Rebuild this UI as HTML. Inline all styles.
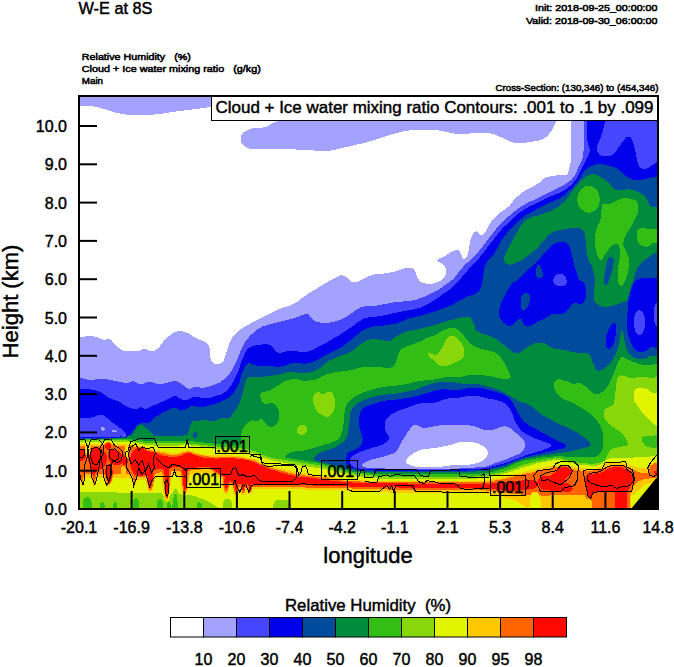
<!DOCTYPE html>
<html><head><meta charset="utf-8"><title>W-E at 8S</title>
<style>
html,body{margin:0;padding:0;background:#fff;}
body{width:674px;height:667px;overflow:hidden;}
svg{display:block;}
text{font-family:"Liberation Sans",sans-serif;fill:#000;white-space:pre;}
.t16{font-size:16px;}
.sm{font-size:9.8px;stroke:#000;stroke-width:0.55px;}
.bd{stroke:#000;stroke-width:0.45px;}
</style></head><body>
<svg width="674" height="667" viewBox="0 0 674 667">
<rect x="0" y="0" width="674" height="667" fill="#fff"/>
<g id="field" shape-rendering="crispEdges">
<clipPath id="pc"><rect x="79" y="96" width="579" height="413"/></clipPath>
<g clip-path="url(#pc)">
<path fill="#a3a3ff" fill-rule="evenodd" d="M76.2,105.5 76.2,93.2 281.0,93.2 235.2,101.1 220.2,104.8 204.8,107.9 175.2,111.6 160.2,113.9 148.8,115.0 132.2,115.0 124.8,114.4 114.2,112.3 98.2,107.1 86.2,105.5ZM240.5,140.2 240.9,136.2 243.7,132.2 245.2,131.1 250.8,128.6 261.2,127.9 266.2,126.8 268.2,126.0 271.8,123.6 277.2,121.3 277.9,119.8 279.0,113.8 279.1,99.2 279.8,98.2 282.2,97.6 320.4,93.2 516.1,93.2 554.2,97.6 556.8,98.2 557.4,99.2 557.5,113.8 555.8,122.2 553.1,128.2 549.3,133.8 545.2,137.8 539.8,140.3 525.2,142.9 518.2,143.5 512.2,142.4 494.4,134.2 487.2,132.6 469.8,133.5 467.2,134.0 456.8,134.0 439.8,130.6 428.2,129.5 416.8,129.5 407.8,130.6 400.2,132.1 388.8,135.2 376.2,139.5 364.8,142.8 331.8,150.4 324.8,151.0 319.2,151.0 302.2,149.5 295.8,149.5 286.8,148.5 250.2,148.9 246.8,147.6 243.8,145.4 241.2,142.2ZM660.8,93.2 660.8,511.8 76.2,511.8 76.2,336.5 85.2,336.5 91.2,336.0 97.2,337.2 101.8,339.3 104.8,339.9 108.2,338.8 109.2,338.9 111.2,340.1 114.5,344.2 119.1,348.2 121.8,350.1 124.8,350.9 128.2,351.5 136.2,351.4 139.8,350.7 143.2,348.8 144.8,348.5 145.8,348.8 149.2,350.8 151.8,351.4 154.8,350.7 157.2,348.9 159.4,346.8 164.2,340.5 168.8,336.1 172.8,333.2 174.8,332.2 178.8,331.1 183.8,331.6 188.8,333.6 193.2,336.6 198.8,339.4 202.8,340.7 206.8,342.8 208.3,344.8 209.3,347.2 210.0,350.8 210.1,357.2 211.6,360.8 212.7,362.2 214.8,363.8 216.2,364.4 218.2,364.4 221.8,362.8 223.4,360.8 224.8,357.8 226.2,352.8 229.7,342.8 233.2,336.2 237.2,332.0 241.2,328.8 250.2,323.6 275.8,310.6 281.8,308.0 290.8,305.3 296.2,302.6 301.6,298.2 308.2,293.7 333.2,278.7 337.2,276.7 341.2,275.2 343.2,275.5 345.8,276.7 348.2,278.6 351.2,281.9 352.2,282.4 354.2,282.4 358.2,281.6 366.8,276.9 374.8,274.2 385.8,273.4 395.8,271.3 404.8,268.2 410.8,267.5 412.8,268.1 414.3,269.2 415.8,272.2 417.4,277.8 419.6,280.8 421.2,282.3 426.8,283.8 428.8,284.0 433.8,283.4 438.2,281.8 440.3,280.8 443.9,277.8 446.1,273.8 446.5,271.8 446.3,269.8 444.4,266.2 441.8,263.6 438.2,261.6 437.4,260.8 437.5,259.8 438.2,258.8 442.8,257.4 452.2,251.4 456.8,249.7 458.8,250.4 460.0,251.8 461.1,253.8 462.8,258.6 463.8,259.1 464.8,259.1 465.6,258.2 467.5,254.8 468.9,249.2 470.2,240.8 472.1,235.2 474.2,232.2 475.2,231.6 477.2,231.3 480.3,234.8 482.2,235.3 483.2,234.8 485.8,231.2 490.7,222.2 493.8,218.5 500.2,212.6 508.5,206.8 514.5,199.2 521.2,193.1 526.2,189.9 537.8,183.8 540.0,182.2 542.7,179.2 546.2,177.4 549.2,176.6 558.8,175.1 566.2,175.0 567.2,174.5 567.8,173.8 571.0,160.8 571.0,124.8 571.5,120.8 571.3,98.2 570.8,97.7 568.2,97.1 532.9,93.2ZM487.9,451.8 487.0,449.8 483.8,446.1 477.2,443.2 470.2,441.5 461.2,441.6 452.8,444.3 441.8,446.9 432.8,448.4 427.2,448.6 421.2,449.7 414.8,452.4 410.2,455.6 407.2,458.8 406.2,460.8 406.1,462.2 407.2,463.8 411.8,465.8 417.2,466.9 423.8,467.4 429.8,467.4 438.8,466.5 443.2,466.5 456.2,464.5 460.8,464.5 464.2,465.0 470.8,464.4 477.8,462.9 482.3,461.2 485.2,458.8 486.8,456.2 487.8,453.8Z"/>
<path fill="#4646ff" fill-rule="evenodd" d="M660.8,93.2 660.8,511.8 76.2,511.8 76.2,378.0 81.8,378.1 87.2,379.5 95.2,379.5 98.2,379.0 102.2,379.0 108.2,379.5 125.8,383.0 129.8,382.4 132.8,381.1 139.2,383.8 143.2,383.9 147.2,382.2 149.8,382.0 152.2,382.2 156.8,383.9 162.8,384.0 170.2,381.7 175.8,381.0 180.2,382.9 186.8,387.9 189.2,388.8 190.8,388.8 193.8,387.2 196.2,386.6 202.2,388.0 206.8,387.3 211.8,385.8 219.8,382.4 226.2,377.5 229.8,373.4 232.9,368.8 237.3,359.2 241.4,348.8 245.2,341.2 251.2,334.6 257.2,329.7 262.8,326.2 290.2,319.3 299.2,316.3 306.2,313.4 308.8,314.6 311.8,318.8 315.2,321.3 319.2,322.4 323.8,323.0 327.2,323.0 331.2,322.4 339.2,320.3 342.8,318.9 346.2,317.0 355.8,310.2 360.2,307.6 362.8,306.7 367.8,305.5 374.8,305.9 395.2,302.1 410.2,300.9 415.8,299.8 425.2,296.4 438.2,289.8 447.9,283.2 453.8,278.5 458.1,272.8 464.5,265.2 472.8,258.0 477.4,253.2 496.8,228.0 507.2,217.5 514.8,211.1 520.2,207.2 527.2,203.1 561.2,186.6 568.2,182.3 571.9,179.2 574.9,175.2 582.4,158.8 584.0,147.2 584.1,99.2 584.6,98.2 587.2,96.6 589.2,93.2 603.3,93.2 604.8,94.2 610.5,93.2ZM102.8,426.3 101.5,427.2 101.1,428.8 101.8,430.3 103.2,431.0 104.6,429.8 104.8,428.2 104.0,426.8ZM111.8,431.2 112.4,432.2 114.2,432.5 116.1,432.2 116.7,431.2 116.1,430.2 114.2,430.0 112.4,430.2ZM124.2,434.8 123.8,435.0 123.5,435.8 124.2,436.3 124.8,435.8ZM361.6,465.2 362.8,466.8 367.2,467.8 392.2,468.8 454.8,468.8 484.8,466.9 504.8,459.8 518.8,454.1 521.8,451.9 523.8,449.8 525.3,446.8 525.4,443.8 523.8,440.2 519.2,435.6 510.2,428.2 505.2,426.1 501.0,426.8 493.2,429.8 488.2,430.5 483.8,429.8 474.2,426.2 467.8,425.0 460.8,424.5 449.2,424.5 437.8,425.6 425.2,428.0 421.2,427.4 417.2,424.8 414.8,424.5 412.8,425.5 408.2,431.2 401.7,441.8 397.8,449.2 394.8,452.4 392.8,453.6 388.2,455.3 369.2,460.2 363.2,463.2 362.0,464.2Z"/>
<path fill="#0000eb" fill-rule="evenodd" d="M660.8,161.5 660.8,301.1 657.2,302.2 655.8,303.2 654.2,307.8 654.0,320.2 654.7,323.2 655.7,325.2 657.2,326.9 659.2,328.1 660.8,328.5 660.8,511.8 76.2,511.8 76.2,437.3 106.2,437.2 109.2,436.8 118.2,436.7 121.2,436.3 124.2,437.1 125.8,436.3 126.2,435.2 125.5,433.2 123.0,430.2 110.1,420.8 107.2,418.1 103.8,415.5 99.2,414.7 94.8,416.8 88.8,418.0 83.8,417.5 76.2,417.5 76.2,388.5 87.2,388.6 98.8,391.2 102.8,393.2 108.2,397.4 111.2,398.8 118.2,401.1 120.3,402.2 123.2,404.8 127.8,407.1 133.8,409.0 137.2,408.9 141.2,407.1 142.2,407.3 144.4,408.8 146.2,408.7 162.8,401.4 171.8,396.9 175.2,395.9 176.8,396.1 179.2,398.1 184.2,400.4 187.2,399.8 191.8,397.7 195.8,396.6 201.8,398.0 207.8,398.0 211.8,397.3 221.8,394.1 225.8,391.4 229.2,387.9 233.1,382.2 238.1,372.2 241.2,362.2 245.6,351.8 247.0,349.8 250.2,346.9 256.8,345.1 266.8,344.0 270.8,345.2 276.2,351.5 277.2,352.3 279.2,352.9 283.2,352.4 290.2,350.5 293.8,350.6 300.8,352.0 307.2,351.8 312.8,349.9 325.8,343.1 332.8,338.7 338.2,335.8 353.2,325.8 357.8,322.2 364.6,318.2 370.2,317.1 378.8,316.4 401.2,311.6 414.2,309.3 421.8,307.3 428.8,303.8 449.4,289.8 456.2,283.5 464.9,273.8 470.8,266.5 479.9,257.2 501.1,229.8 515.2,216.1 518.8,213.2 528.2,207.1 548.2,197.4 562.8,191.3 571.5,184.8 575.8,179.9 577.4,177.2 589.4,152.8 589.9,148.8 588.1,144.2 587.0,138.2 587.2,98.8 590.5,93.2 602.0,93.2 604.4,96.2 605.4,98.8 605.5,114.8 604.4,124.8 602.3,132.8 597.0,146.8 597.1,151.2 599.2,154.4 600.8,155.3 604.8,156.5 610.2,155.9 611.8,155.3 615.8,152.2 618.8,146.7 625.8,138.0 627.2,136.8 629.2,136.5 630.8,137.2 633.0,141.8 635.3,150.8 637.1,160.8 638.9,165.8 640.2,167.6 642.8,168.9 646.2,168.8 649.4,167.2 656.2,162.3ZM639.2,310.2 637.2,311.1 635.2,313.6 634.1,318.2 633.5,322.8 635.2,331.4 637.2,334.3 639.2,335.3 641.5,334.2 643.4,331.2 644.4,328.8 645.0,323.8 645.0,319.2 644.1,315.2 642.2,311.7 640.8,310.6ZM551.3,445.2 550.8,444.5 549.2,443.7 533.8,437.9 525.2,433.6 521.5,430.8 518.7,427.2 516.2,423.5 514.2,419.2 511.6,411.8 509.3,407.8 507.5,405.8 504.2,403.2 500.2,401.2 495.2,399.7 489.2,398.8 476.2,395.6 469.2,395.5 455.8,398.4 448.2,398.5 444.8,399.1 438.2,401.8 433.2,402.9 428.8,402.5 422.2,402.7 411.2,406.2 398.8,410.7 393.8,412.9 390.2,415.1 387.5,417.8 386.2,419.5 385.1,422.2 384.5,426.8 385.2,430.2 385.8,431.8 388.6,435.8 389.2,438.2 389.1,439.2 387.8,441.3 382.2,444.8 362.2,451.0 355.0,454.2 353.5,455.2 350.8,458.2 349.7,460.2 349.6,461.8 351.2,465.8 355.0,467.8 359.2,468.6 369.2,469.2 391.8,470.0 454.2,470.0 458.2,469.5 485.2,468.4 504.8,463.3 526.8,455.0 543.2,450.0 550.2,447.1 551.2,446.2ZM555.2,275.6 553.9,277.8 553.2,280.2 553.8,282.8 555.8,284.9 558.8,286.3 561.8,286.5 564.0,285.8 565.9,284.2 566.9,282.2 566.4,279.2 565.8,277.6 563.8,275.1 561.8,274.1 558.8,274.0 557.2,274.4Z"/>
<path fill="#004b9b" fill-rule="evenodd" d="M660.8,176.5 660.8,281.6 657.2,278.7 655.2,277.6 647.8,277.5 641.2,278.3 637.8,279.6 634.3,281.8 632.2,286.3 630.8,291.0 628.1,302.8 628.0,308.2 627.0,317.2 627.0,325.8 628.2,334.8 630.4,342.2 632.7,346.8 634.5,349.2 637.8,351.4 641.2,352.4 645.5,351.2 647.0,350.2 648.8,348.2 652.2,346.6 653.8,346.7 658.2,348.8 660.8,349.0 660.8,511.8 76.2,511.8 76.2,438.1 106.2,437.9 109.2,437.5 118.8,437.5 121.2,437.0 124.8,437.6 127.2,435.8 129.8,434.8 135.8,426.8 138.2,424.4 140.2,423.4 143.8,422.6 148.2,423.0 150.2,422.4 151.6,421.2 153.2,418.6 156.8,416.0 172.2,407.7 175.8,407.6 178.8,410.0 181.8,410.4 185.8,409.4 187.8,408.3 190.2,406.2 192.8,405.6 198.2,406.9 200.8,407.0 206.2,406.4 218.8,402.8 225.8,399.3 228.3,397.8 232.2,394.5 235.8,389.8 239.3,382.8 241.2,375.2 244.1,368.2 246.2,364.4 248.2,363.2 249.8,363.0 252.8,364.8 257.2,365.9 268.8,365.5 275.8,366.9 278.2,367.0 284.2,365.9 291.8,363.2 295.8,362.6 297.8,362.6 301.8,363.5 306.2,363.5 312.2,362.3 317.8,359.9 323.2,356.6 338.8,348.8 348.9,341.8 362.2,330.8 367.2,328.2 373.2,326.6 381.2,325.9 394.8,323.8 399.8,322.3 405.1,319.8 408.2,318.7 425.8,314.3 439.2,310.0 450.2,305.8 467.2,296.6 475.2,294.1 478.8,291.3 481.3,286.2 482.9,279.2 484.2,269.2 485.2,265.8 488.1,260.2 492.8,255.5 494.8,252.8 501.2,240.8 509.2,230.0 518.5,220.8 527.2,214.2 551.2,202.1 559.8,198.4 563.2,195.9 571.8,188.5 577.4,182.2 584.0,171.2 587.7,167.8 591.2,165.9 597.2,164.2 599.8,164.0 604.8,164.6 612.8,166.7 617.3,168.8 620.0,170.8 624.2,174.9 627.8,177.3 633.8,179.9 638.8,180.4 654.8,176.6ZM614.2,322.8 612.8,323.5 610.4,326.2 608.2,330.8 605.7,337.8 605.7,345.2 607.1,347.8 608.8,348.9 610.2,348.4 611.8,346.8 613.9,343.2 614.9,340.2 616.4,330.8 616.5,328.2 615.6,324.2ZM566.4,445.8 565.0,444.2 551.8,438.1 545.8,434.4 529.8,425.8 525.8,422.9 522.1,419.2 518.7,414.2 512.4,401.8 509.2,398.1 503.2,394.4 493.8,391.2 481.8,388.2 476.8,387.5 467.8,388.1 455.8,390.5 450.2,390.4 445.8,389.2 443.8,389.0 439.2,389.6 432.8,391.2 419.8,395.3 411.2,397.4 394.8,399.9 384.8,400.7 378.8,402.2 364.8,407.1 361.8,410.2 360.1,413.2 359.2,416.2 358.5,420.2 359.7,427.8 362.9,439.2 362.2,443.2 361.2,445.0 358.2,447.8 353.2,450.3 349.8,451.4 347.2,453.5 346.1,456.8 346.0,461.8 346.8,464.8 350.8,467.6 356.8,469.5 363.8,470.1 386.2,471.0 453.8,471.0 457.8,470.5 466.8,470.5 485.2,469.6 505.8,464.7 515.9,460.2 526.8,456.7 563.8,448.3 566.0,447.2ZM566.3,242.8 563.8,241.6 560.8,241.6 555.8,243.2 552.1,245.2 543.5,253.8 539.8,258.5 531.8,266.5 526.2,271.0 516.8,280.4 512.7,282.8 507.8,289.6 504.9,294.8 500.9,303.2 498.6,313.2 498.7,314.8 500.2,318.8 503.8,322.9 508.2,325.8 510.8,325.8 513.5,324.2 517.8,319.7 519.8,318.7 520.8,318.7 521.8,319.7 522.4,322.2 524.2,325.3 526.2,326.3 528.8,326.3 533.5,324.2 538.2,321.3 544.2,318.9 551.8,314.2 553.8,313.8 556.8,314.4 559.2,314.5 564.2,313.1 567.2,310.5 573.4,302.8 574.8,302.6 577.2,303.4 581.2,303.8 582.8,303.3 583.8,302.3 585.0,299.8 586.0,295.8 585.5,286.8 584.9,283.8 583.8,282.3 579.2,280.0 578.6,279.2 573.2,261.2 570.3,248.2 568.3,244.8ZM538.2,264.9 539.8,265.5 541.3,267.8 543.4,275.2 543.3,276.8 542.8,277.3 537.8,277.9 536.7,277.2 536.0,274.2 536.1,270.2 536.8,266.7 537.2,265.7ZM526.8,292.7 528.8,293.7 529.6,295.2 530.0,296.8 529.9,300.2 529.0,303.8 527.8,306.2 525.0,309.8 523.2,310.7 521.8,309.7 520.6,306.2 520.5,302.8 521.7,296.2 522.6,294.8 524.8,292.9Z"/>
<path fill="#008c3c" fill-rule="evenodd" d="M592.2,174.0 596.2,174.4 604.2,179.2 609.8,183.5 612.8,187.8 615.2,189.6 618.2,190.4 622.8,190.5 628.2,189.0 631.8,189.7 637.2,191.7 643.9,195.2 645.8,197.8 648.9,204.2 650.5,206.2 652.8,207.0 660.8,207.0 660.8,252.1 655.8,252.6 654.2,253.2 644.8,260.1 638.7,265.8 635.2,272.8 633.4,280.2 630.6,287.8 627.9,298.8 627.0,300.2 624.8,301.6 617.2,304.5 605.8,307.4 599.8,305.8 595.6,302.8 594.3,300.2 593.5,295.8 595.0,281.8 594.4,274.8 591.8,265.8 588.9,260.8 587.2,255.2 586.0,246.8 585.4,237.2 584.8,234.2 584.1,232.2 582.8,230.2 580.2,228.6 578.2,228.0 571.8,228.1 564.8,229.1 553.2,231.7 548.1,235.2 543.9,240.8 536.5,248.8 529.2,254.9 522.2,259.8 518.2,261.8 509.8,264.9 507.2,264.4 506.2,263.8 504.7,261.8 504.0,259.8 504.2,256.2 505.8,253.0 520.7,225.8 524.8,221.0 526.2,219.9 531.8,217.2 543.5,213.8 550.4,211.2 559.2,206.3 565.4,200.8 575.8,186.7 580.8,181.0 586.8,176.2ZM611.8,257.1 609.8,257.2 608.2,258.2 607.2,260.2 604.6,272.8 604.0,278.2 604.1,283.2 604.7,284.2 605.8,284.8 607.2,284.4 608.6,282.2 612.4,270.2 614.0,260.2 613.3,258.2ZM660.8,355.5 660.8,511.8 76.2,511.8 76.2,438.6 106.2,438.5 121.8,437.7 124.8,438.2 127.8,436.7 131.8,435.6 137.7,426.2 139.2,425.2 140.8,424.8 142.2,425.2 146.4,428.2 153.2,434.9 155.8,436.4 171.2,436.5 173.8,436.0 180.8,436.0 187.2,434.8 188.3,433.8 188.7,430.2 190.7,424.2 191.8,422.2 193.2,420.7 194.2,420.7 195.8,421.4 197.8,421.5 201.8,420.1 205.8,420.0 212.2,421.5 215.8,420.8 218.8,418.9 221.2,418.1 223.8,417.7 226.8,418.8 230.3,417.2 236.8,408.2 239.9,402.2 243.3,391.2 246.0,380.2 247.0,378.8 249.2,376.8 260.2,377.0 266.8,376.4 280.2,374.4 286.8,372.2 291.2,371.5 293.2,371.6 299.2,373.0 305.2,373.0 313.8,371.3 319.8,368.3 324.8,363.6 330.2,360.1 341.8,355.2 347.8,353.3 353.8,349.9 357.8,346.2 365.8,340.7 368.2,339.7 374.2,339.0 379.2,339.6 387.8,341.4 389.8,341.3 391.2,340.7 393.2,338.6 397.2,335.7 404.2,332.3 408.8,331.1 417.8,329.4 433.8,325.3 450.2,320.2 461.8,317.2 466.2,316.5 469.8,317.4 472.2,320.2 474.3,324.2 475.2,329.2 476.2,330.3 479.2,332.3 491.2,336.7 496.2,339.2 501.8,343.1 510.1,350.2 514.7,353.2 517.2,353.5 519.2,353.2 527.8,346.7 533.2,343.7 537.2,342.6 542.2,342.6 545.8,343.9 550.8,347.4 554.8,348.9 561.8,349.6 573.8,352.4 579.8,353.0 585.2,352.5 587.2,353.1 590.3,355.2 592.7,362.2 595.6,368.8 596.8,370.1 598.2,370.8 600.2,370.4 605.9,367.2 610.2,363.0 613.1,359.2 615.8,353.8 619.3,343.8 621.1,332.2 621.8,330.7 622.2,330.6 622.9,331.8 625.1,343.8 626.4,348.8 628.8,353.3 632.2,356.8 636.2,358.8 641.8,359.5 646.2,358.3 650.2,356.1 655.2,355.5ZM195.2,431.2 193.8,432.2 193.0,434.8 193.7,437.2 195.2,438.3 196.7,437.2 197.4,434.8 196.7,432.2ZM313.8,459.2 313.8,459.8 314.8,460.4 331.8,464.6 343.2,468.3 353.8,470.4 361.2,471.4 385.8,472.2 454.2,472.1 458.2,471.7 474.2,471.6 485.2,471.0 505.0,466.8 515.2,462.0 524.8,458.7 538.2,456.1 571.2,451.3 589.2,446.5 590.3,445.8 590.7,444.2 590.0,442.8 586.0,438.8 578.2,433.2 566.8,427.1 561.2,424.9 545.8,417.1 540.1,413.2 530.8,405.9 526.2,403.7 521.8,402.3 517.2,400.4 503.8,392.4 497.4,389.2 491.2,387.2 478.8,384.1 473.2,383.5 461.8,383.5 456.8,382.9 450.8,381.5 443.2,381.5 436.2,382.7 426.2,385.2 419.8,388.3 410.8,390.9 393.8,393.9 384.8,394.6 377.8,395.7 365.8,399.0 359.2,402.2 355.2,405.1 352.8,407.5 350.7,411.8 350.1,413.8 349.4,422.2 347.8,434.2 347.1,436.8 344.3,441.2 338.8,445.3 333.8,447.9 322.8,451.7 316.8,454.7 314.8,456.9Z"/>
<path fill="#32be14" fill-rule="evenodd" d="M588.8,185.5 592.8,186.6 596.4,189.2 598.8,193.8 600.0,199.2 598.8,205.2 596.9,208.8 593.2,211.6 589.2,213.0 584.8,211.9 580.2,208.5 578.2,205.2 577.0,199.2 578.2,193.8 580.6,189.8 584.8,186.6ZM625.8,198.0 632.8,199.2 636.3,200.8 638.3,204.2 638.5,208.8 637.4,213.8 636.1,217.2 632.3,224.8 626.6,233.8 624.2,239.2 623.2,242.8 623.1,244.2 623.7,246.8 626.1,250.8 628.8,258.2 629.5,264.8 627.3,275.2 625.3,280.8 622.9,284.8 621.8,285.6 620.8,285.7 619.2,284.8 618.4,283.2 617.5,278.2 618.1,267.8 620.0,255.8 620.0,249.8 618.9,245.2 617.8,244.1 616.2,243.7 612.2,245.6 609.6,248.2 606.2,252.6 602.3,259.2 601.2,259.9 600.2,259.9 598.9,258.8 596.2,252.8 595.1,245.8 594.5,237.8 596.2,229.2 599.6,221.8 600.8,217.8 602.0,205.2 602.5,204.2 603.8,203.4 604.8,203.3 607.2,204.3 608.8,204.3 611.2,203.4 619.2,199.2 623.8,198.1ZM637.0,230.8 637.7,229.8 639.2,228.8 642.2,228.0 644.2,228.1 650.8,229.5 660.8,229.0 660.8,242.2 652.8,243.1 649.2,245.8 646.8,246.9 642.2,245.9 638.8,243.5 636.7,240.2 636.5,233.2ZM660.8,364.0 660.8,511.8 76.2,511.8 76.2,439.2 126.8,439.0 147.2,441.0 179.8,441.0 182.8,441.4 194.8,441.5 217.2,444.0 229.8,444.5 240.2,445.5 241.0,444.2 241.0,435.8 242.2,429.8 243.8,427.0 249.2,421.7 253.2,420.2 256.2,421.3 257.2,421.3 258.3,420.8 259.8,419.1 261.2,418.6 262.4,419.2 267.8,425.9 271.2,426.9 272.8,426.6 275.3,425.2 277.3,422.8 278.6,420.2 279.0,418.8 278.9,412.8 278.3,409.2 276.8,406.1 274.8,404.2 271.8,403.2 270.2,403.1 266.2,404.4 263.1,403.2 261.2,400.2 260.1,395.8 260.6,393.8 262.2,392.3 268.8,390.9 273.8,388.3 284.2,381.4 289.8,379.6 295.2,379.0 302.2,380.5 309.2,380.5 313.8,379.9 318.2,378.6 322.2,376.1 327.2,374.1 333.2,372.6 348.8,370.4 363.2,367.1 368.2,366.5 372.8,366.5 388.8,368.0 392.2,367.3 393.6,366.2 395.4,363.8 398.4,353.8 400.0,350.8 401.8,348.7 408.2,345.7 418.4,342.2 428.2,337.4 433.8,335.6 441.8,331.1 447.8,328.6 452.8,327.6 456.8,328.9 461.2,332.5 469.6,342.8 472.8,345.3 477.8,347.8 494.2,352.2 498.4,354.8 499.8,356.2 505.4,364.8 510.6,375.8 510.7,376.8 510.3,377.8 508.2,379.3 505.2,379.5 492.2,376.6 482.8,375.1 476.2,374.5 469.2,375.1 457.8,377.5 449.2,377.0 442.8,377.6 432.2,379.9 418.8,381.1 402.8,384.9 385.8,386.6 377.8,388.1 368.2,390.7 361.2,393.4 354.8,396.7 351.8,398.6 349.8,400.5 346.2,405.2 344.6,411.2 344.0,420.8 342.8,428.8 341.3,434.2 338.8,438.9 334.2,441.4 330.2,443.0 309.2,449.3 301.8,450.9 294.2,451.6 291.8,452.2 287.8,454.2 285.2,456.8 285.3,457.2 286.8,457.9 318.2,462.7 335.2,467.2 343.8,469.9 353.8,471.9 379.2,474.4 386.2,474.4 389.8,474.0 475.8,474.0 486.8,472.9 494.8,471.3 506.8,467.5 515.6,463.2 524.8,460.3 544.8,457.1 554.8,456.4 563.8,456.5 567.8,457.0 595.2,456.8 598.2,455.3 600.4,453.2 602.1,450.2 602.9,447.2 602.9,434.2 601.8,429.2 599.9,424.8 596.5,419.8 592.5,415.8 586.8,411.2 573.8,403.4 570.2,401.7 564.8,399.9 560.0,396.8 556.7,393.2 554.8,389.4 553.7,386.2 553.6,384.8 554.1,382.8 555.2,380.8 556.8,379.6 559.8,379.1 566.8,381.2 573.2,383.9 575.2,383.9 578.2,382.8 579.8,383.0 585.2,386.1 588.2,388.5 592.2,392.8 596.8,394.4 600.2,393.4 603.4,391.2 608.0,385.8 611.2,379.9 617.6,363.2 619.9,358.8 621.2,357.5 622.8,357.2 623.8,357.4 634.2,362.3 644.2,365.4 649.2,365.4 655.2,364.0Z"/>
<path fill="#87d70a" fill-rule="evenodd" d="M453.8,335.9 456.9,337.8 460.8,342.2 463.4,346.8 464.5,351.2 464.4,354.2 463.6,356.8 462.5,358.2 459.8,360.3 449.2,365.3 443.8,366.4 439.8,365.4 436.8,363.4 430.0,357.2 428.2,354.8 428.0,353.2 429.2,353.0 435.2,354.9 437.8,354.3 439.6,352.2 446.6,338.8 449.8,335.8 451.8,335.5ZM660.8,376.5 660.8,511.8 201.0,511.8 201.9,509.8 201.9,505.2 200.9,502.8 199.2,501.7 197.6,502.8 196.6,505.2 196.6,509.8 197.6,511.8 177.0,511.8 178.0,508.2 177.5,500.8 176.7,495.8 175.9,494.2 175.2,493.9 174.2,494.7 173.7,496.2 172.4,506.2 172.5,508.8 174.0,511.8 170.0,511.8 170.9,509.8 171.0,505.8 170.2,503.1 169.2,502.0 167.6,502.8 166.6,505.2 166.5,509.8 167.2,511.8 161.8,511.8 162.9,509.2 162.9,503.2 161.9,500.2 160.8,499.3 159.8,499.1 158.8,499.6 157.7,500.8 156.6,504.2 156.6,509.2 157.7,511.8 137.5,511.8 138.9,508.8 138.9,502.2 137.9,499.2 136.8,498.3 135.8,498.1 134.8,498.6 133.7,499.8 132.6,503.2 132.6,509.2 133.7,511.8 116.5,511.8 117.4,509.8 117.4,505.2 116.6,502.8 115.2,501.7 113.9,502.8 113.1,505.2 113.0,509.8 113.7,511.8 104.0,511.8 104.9,509.8 104.9,505.8 103.9,503.2 102.2,502.2 100.6,503.2 99.6,505.8 99.6,509.8 100.6,511.8 90.3,511.8 91.9,508.8 91.9,502.8 90.7,498.8 89.2,497.6 87.2,497.1 85.2,497.6 83.8,498.7 82.6,502.2 82.6,508.8 84.6,511.8 76.2,511.8 76.2,440.1 123.8,440.1 133.8,441.1 148.8,443.4 179.2,443.5 185.8,443.1 217.2,446.5 222.2,446.5 235.2,447.6 245.8,449.1 254.8,451.2 265.2,455.8 269.8,457.3 274.8,458.4 318.2,465.1 334.8,468.7 345.2,471.9 353.8,473.5 378.8,476.0 386.2,476.1 389.8,476.5 474.2,476.5 481.8,476.0 489.2,474.9 505.2,471.3 523.8,464.5 534.8,461.7 554.8,458.1 562.8,458.6 572.2,461.8 576.8,462.4 588.2,463.5 595.2,463.5 599.2,462.8 602.2,461.8 605.4,459.2 608.4,452.8 610.8,449.7 614.2,448.2 620.2,446.7 627.2,445.8 628.2,444.8 628.1,443.8 625.9,438.8 622.9,434.2 617.4,429.8 611.2,425.8 608.0,423.2 604.6,418.2 603.6,414.2 603.7,411.8 605.1,408.8 612.2,405.6 614.1,402.8 616.6,381.8 617.2,378.8 618.2,376.8 619.8,375.6 621.2,375.2 630.8,378.0 634.2,377.9 639.2,376.6 644.2,376.6 649.2,377.9 652.2,378.0 656.2,376.6ZM660.4,440.2 659.8,437.8 658.8,435.8 656.2,434.6 654.8,434.9 651.8,436.4 647.2,435.5 644.8,435.7 642.2,437.4 641.6,438.8 642.4,442.2 645.2,445.4 647.8,446.8 652.8,448.0 656.8,447.4 659.0,446.2 660.3,443.8ZM315.8,392.9 317.2,392.2 318.8,392.1 320.2,392.7 321.8,394.0 323.2,394.4 326.8,392.2 329.8,391.8 331.8,392.6 333.6,394.8 334.9,398.8 334.9,406.8 332.3,413.8 329.2,416.5 327.8,417.0 325.8,416.9 321.0,414.8 317.5,411.8 315.7,409.2 313.6,404.2 313.0,401.8 313.2,396.8 313.9,394.8ZM304.2,425.2 306.2,426.2 307.1,427.8 307.5,429.8 306.9,431.2 304.2,433.9 302.2,434.8 300.2,434.8 298.2,433.8 297.1,432.8 296.5,431.2 296.7,429.8 297.7,427.8 299.2,426.1 300.8,425.2Z"/>
<path fill="#e1f500" fill-rule="evenodd" d="M636.2,388.7 638.8,387.6 642.8,387.7 646.8,388.9 652.2,392.7 660.8,394.0 660.8,426.2 655.2,425.3 653.2,424.0 645.0,415.8 641.1,411.2 635.0,402.2 633.6,398.8 633.5,393.2 634.7,390.2ZM76.2,441.6 103.8,441.6 108.2,441.0 112.2,441.5 123.8,441.6 133.8,442.6 144.2,444.5 154.2,445.5 166.2,445.5 169.2,446.0 173.2,446.0 185.8,445.0 200.8,446.6 212.2,448.5 235.2,450.1 245.8,451.6 254.8,453.7 262.8,457.3 269.8,459.8 287.2,463.4 327.8,469.6 345.2,473.8 356.8,475.9 366.8,477.4 379.2,478.5 475.8,478.5 486.8,477.4 497.2,475.3 505.2,473.3 535.2,463.7 554.2,460.1 557.8,460.0 562.8,460.6 567.8,462.5 577.2,464.4 594.8,466.0 599.8,464.9 602.2,463.5 607.2,459.6 609.2,458.7 612.2,458.1 618.8,457.5 629.2,458.0 639.2,457.0 660.8,456.0 660.8,511.8 288.0,511.8 290.8,510.3 291.4,509.2 290.6,503.8 288.8,501.2 287.8,500.5 284.2,499.6 281.8,499.5 279.2,499.6 275.8,500.5 274.7,501.2 273.1,504.8 272.6,509.2 273.2,510.3 276.0,511.8 230.4,511.8 232.2,509.2 232.5,507.8 231.8,502.8 230.6,500.2 229.2,499.2 226.2,499.1 224.0,500.2 223.2,502.8 222.6,506.8 222.8,510.8 209.8,502.2 204.2,499.7 193.2,495.6 187.8,495.0 185.2,495.9 184.2,495.9 181.2,494.2 178.8,493.8 178.2,493.2 176.9,489.8 175.8,488.7 174.8,489.0 174.2,489.6 172.8,493.3 170.5,494.8 168.5,500.8 167.2,501.7 166.2,501.9 164.8,500.8 163.2,494.8 162.8,494.0 161.8,493.5 152.2,493.2 150.2,493.5 147.2,493.0 138.8,493.0 135.8,492.5 116.8,492.5 113.2,492.0 76.2,492.0Z"/>
<path fill="#ffc800" fill-rule="evenodd" d="M76.2,443.9 86.1,444.2 86.4,444.8 85.6,449.2 86.7,453.8 87.8,454.7 88.8,453.8 89.6,451.8 89.4,445.2 89.8,444.2 91.2,444.0 103.2,443.9 106.2,442.1 109.2,441.7 110.7,442.2 112.8,443.9 123.8,444.0 126.8,444.7 129.2,444.5 137.2,445.8 142.8,446.0 146.2,447.7 171.8,453.0 178.2,452.8 183.8,450.6 188.8,450.3 198.8,453.3 208.8,454.9 215.2,455.4 232.2,455.5 242.8,456.5 254.8,459.1 262.8,463.2 269.8,465.8 297.2,471.9 347.2,479.4 358.8,480.3 372.8,480.7 376.2,481.2 475.8,481.3 486.8,480.4 504.2,476.9 534.8,469.2 555.2,465.0 563.2,464.5 572.2,466.4 587.8,468.5 595.2,468.5 599.2,467.6 605.2,463.9 609.2,462.2 613.8,461.5 625.8,464.1 641.2,468.3 646.8,468.5 648.2,468.0 650.2,464.8 652.8,463.0 654.8,462.1 660.8,461.1 660.8,480.7 645.2,484.6 634.2,494.4 633.2,495.0 631.7,495.2 631.1,496.8 630.8,508.8 629.8,510.0 626.4,511.8 539.4,511.8 541.0,507.8 540.4,498.2 537.7,493.8 536.2,493.1 533.2,493.2 530.2,497.2 530.0,507.2 530.3,509.8 529.8,510.1 523.8,505.5 514.8,500.2 497.2,495.7 486.8,493.6 475.8,492.5 389.2,492.5 385.8,492.0 376.2,492.0 372.8,491.5 350.2,491.0 338.2,490.0 304.8,489.5 301.2,489.0 269.8,489.0 266.2,488.5 255.2,488.5 253.8,488.7 253.2,489.2 252.3,492.2 250.6,494.2 248.8,494.2 246.8,492.2 246.2,492.4 244.2,495.2 242.8,495.4 241.8,494.8 240.2,492.4 239.8,492.2 237.8,495.8 236.2,496.4 234.8,495.8 233.8,494.2 232.1,487.2 231.2,486.0 230.8,486.0 230.2,486.6 229.1,491.2 227.8,493.8 226.2,494.4 224.8,493.8 223.1,490.2 220.5,478.8 219.2,477.7 215.8,475.9 209.2,473.2 207.8,473.0 192.2,474.1 190.2,474.8 189.7,475.8 189.0,483.2 187.5,491.2 186.4,493.8 184.8,494.8 183.1,493.8 182.1,491.8 180.5,483.2 179.7,475.8 179.2,475.2 178.2,475.0 172.2,475.2 171.7,476.2 171.0,487.2 170.4,491.2 168.0,499.8 166.8,500.8 165.8,500.3 165.2,499.2 163.1,491.2 162.5,487.2 161.8,477.2 161.2,476.4 156.8,477.1 155.8,477.8 152.9,489.8 151.8,491.8 150.8,492.4 149.2,492.2 148.0,490.8 145.7,481.8 144.8,480.2 141.2,480.5 137.8,479.9 136.8,480.2 135.3,485.8 134.2,487.0 133.2,485.8 131.8,479.7 130.8,478.9 129.2,478.5 124.2,478.2 122.2,479.1 120.2,478.1 113.8,477.7 112.9,478.8 112.5,481.2 110.6,484.2 109.6,487.2 108.8,488.0 107.8,486.9 106.2,482.3 104.2,477.8 98.8,477.5 97.2,477.9 95.3,485.8 94.2,487.0 93.2,485.8 91.2,477.9 90.2,477.5 85.8,477.6 84.8,478.4 83.1,485.2 82.2,486.0 81.8,485.8 80.6,482.8 79.7,478.2 78.8,477.6 76.2,477.5ZM126.8,445.6 125.8,447.3 125.6,450.8 125.9,455.2 126.3,456.2 127.2,456.9 127.8,456.8 128.3,455.8 128.4,450.2 127.8,447.2Z"/>
<path fill="#ff6400" fill-rule="evenodd" d="M76.2,445.6 84.3,445.8 84.7,446.2 84.6,449.2 85.7,453.2 86.8,455.3 87.8,455.8 89.1,454.8 90.3,452.2 90.6,446.8 91.1,445.8 103.2,445.5 106.2,442.8 108.8,442.2 110.2,442.8 112.8,445.4 124.3,445.8 124.6,446.2 124.5,450.8 125.1,455.2 125.8,456.8 127.2,457.8 128.7,457.2 129.4,455.8 129.5,449.8 129.0,446.8 129.8,446.2 136.8,447.2 142.8,446.9 147.8,449.9 171.8,455.0 178.2,454.5 183.8,452.2 188.8,451.4 194.8,453.8 198.8,454.8 208.2,456.4 214.8,457.0 231.8,456.9 239.2,457.5 248.2,459.0 254.2,460.5 267.0,466.8 289.8,472.9 306.8,475.9 314.8,476.5 343.2,480.5 353.8,481.4 372.8,481.7 376.2,482.1 475.8,482.5 486.8,482.0 504.2,478.9 524.8,473.7 536.2,471.9 554.8,467.2 558.2,466.9 564.2,465.7 568.2,466.7 572.8,469.3 582.8,470.9 587.2,471.2 599.2,469.8 601.8,469.1 606.2,466.7 610.8,465.6 616.8,465.0 622.2,465.1 625.8,465.7 628.2,468.0 634.8,470.2 641.2,473.3 644.8,473.5 648.8,472.7 649.0,472.2 649.1,469.8 649.7,467.8 650.8,465.9 652.1,464.8 654.9,463.2 660.8,462.2 660.8,476.9 644.2,479.1 638.2,481.4 635.8,483.1 633.2,486.8 631.6,489.8 630.0,495.2 629.8,508.2 625.0,511.8 593.8,511.8 592.2,510.2 591.7,500.8 590.8,499.9 586.2,498.0 584.8,495.6 583.8,495.1 561.2,495.0 558.2,494.5 553.8,494.5 548.2,495.9 541.8,496.0 539.9,495.2 537.8,492.3 536.2,492.0 532.8,492.2 531.9,492.8 530.6,494.8 529.2,495.4 495.2,491.9 487.2,490.6 475.2,489.6 389.2,489.5 385.8,489.1 375.2,489.0 372.2,488.6 352.8,488.6 349.2,488.1 333.8,488.0 330.2,487.6 304.8,487.5 301.2,487.0 275.8,487.0 272.2,486.5 254.8,486.5 252.7,486.8 251.0,491.2 249.8,492.2 248.5,491.2 246.8,486.4 245.9,486.8 244.8,491.2 244.0,492.8 243.2,493.2 242.0,492.2 240.8,487.2 240.2,486.5 239.8,486.5 239.2,487.2 237.8,492.4 237.0,493.8 236.2,494.2 235.2,493.7 234.6,492.2 232.8,484.5 231.2,483.3 230.2,483.4 229.8,484.0 227.2,491.4 226.2,492.2 225.3,491.8 224.2,489.3 222.5,480.8 223.2,478.2 223.0,477.8 213.3,471.2 209.8,469.4 207.8,469.0 192.2,470.1 189.8,470.7 189.2,471.2 188.6,473.8 186.6,489.2 185.8,492.1 184.8,493.1 183.8,492.2 182.9,489.2 180.9,473.2 180.2,471.2 179.2,470.6 177.2,470.5 171.7,471.2 171.2,471.8 170.5,475.2 170.4,479.2 168.8,492.8 167.8,497.5 166.8,498.9 165.8,497.6 165.1,495.2 164.0,487.8 162.9,475.2 162.3,472.8 161.8,472.2 156.2,473.2 154.8,474.2 152.6,486.8 151.2,489.8 150.2,490.6 149.2,489.8 148.3,487.2 146.3,477.2 145.8,476.4 141.2,477.5 136.2,477.0 135.6,477.8 134.2,482.8 133.8,482.0 132.4,475.8 130.2,474.7 126.1,474.2 125.7,473.8 126.0,470.2 125.6,468.2 124.4,466.8 122.8,466.2 121.5,466.8 120.7,468.8 121.0,473.8 114.2,473.8 113.7,474.2 112.2,478.2 111.6,481.2 109.8,483.8 108.8,484.5 107.8,483.6 106.4,480.8 104.3,474.2 103.2,473.5 97.2,473.8 96.6,474.8 94.8,482.1 94.2,482.8 93.8,482.3 92.3,476.2 90.8,473.9 89.2,473.5 84.8,473.7 84.0,474.8 82.8,480.9 82.2,481.8 81.8,481.0 80.2,474.2 79.2,473.6 76.2,473.5Z"/>
<path fill="#ff0a00" fill-rule="evenodd" d="M108.2,442.9 109.8,443.4 111.1,446.2 109.8,449.1 108.2,449.9 106.2,448.8 105.1,447.2 104.9,446.2 106.2,443.8ZM97.2,447.6 100.8,448.6 103.9,450.8 105.8,453.8 107.1,456.8 107.2,458.2 106.3,463.2 105.7,464.8 102.2,468.3 96.9,470.8 94.8,474.3 93.8,475.1 92.8,474.6 91.5,472.2 90.3,466.8 88.2,459.8 88.0,457.8 91.0,452.8 91.8,448.5 93.8,447.6ZM129.4,459.8 131.6,453.8 134.0,450.2 138.1,448.2 142.2,447.8 143.8,448.3 145.8,450.4 147.8,451.4 153.8,452.3 162.8,455.8 170.2,456.9 175.2,457.0 179.8,456.3 183.2,455.3 186.2,453.4 188.2,452.8 190.5,453.2 195.2,455.4 200.8,457.2 205.2,457.9 214.8,458.6 232.2,458.2 245.8,459.7 254.7,462.2 262.8,466.4 271.2,469.5 287.2,474.3 297.2,476.4 314.8,478.1 326.2,480.0 343.2,482.0 351.2,482.2 354.2,482.7 372.2,482.7 375.8,483.2 427.2,483.7 489.8,483.5 527.8,480.0 533.8,480.2 535.8,480.8 537.8,482.5 538.2,479.2 539.8,477.4 543.2,476.1 548.2,476.4 549.8,476.1 557.8,470.2 560.2,467.8 564.8,466.6 567.2,467.2 569.1,468.2 571.4,470.2 571.8,471.2 570.8,474.2 565.6,479.2 564.2,481.2 563.9,482.8 567.8,483.2 570.2,484.7 571.8,486.2 572.7,488.8 571.8,490.8 569.8,491.8 567.2,492.5 564.2,491.9 562.2,490.3 560.2,491.3 557.8,491.5 552.2,490.9 548.2,490.0 542.8,490.3 541.8,489.9 540.7,488.8 538.8,483.9 537.8,483.0 537.2,486.2 535.2,487.8 533.2,488.8 526.2,489.9 517.8,490.5 505.2,490.5 487.8,488.5 481.2,488.4 478.2,488.0 402.2,487.9 398.2,487.5 375.8,487.4 372.2,486.9 352.8,486.9 349.8,486.5 336.2,486.4 333.8,486.0 324.2,485.9 321.8,485.5 312.8,485.5 309.8,485.0 288.2,485.0 285.2,484.5 275.8,484.5 272.8,484.0 264.2,484.0 261.8,483.5 252.2,483.6 251.2,484.2 250.7,487.8 249.8,489.3 248.8,487.8 248.3,484.2 247.8,483.7 246.8,483.5 245.8,483.7 245.2,484.2 243.8,489.6 243.2,490.1 242.8,489.6 241.3,484.2 240.8,483.7 239.8,483.5 238.8,483.7 238.2,484.2 236.8,490.6 236.2,491.1 235.8,490.7 235.2,489.2 234.3,483.8 233.2,482.3 230.2,480.9 228.9,481.2 227.2,488.3 226.8,489.3 226.2,489.4 225.6,488.8 224.8,486.2 223.8,480.8 224.9,478.2 224.7,477.2 211.8,468.4 209.8,467.5 204.8,466.5 192.2,468.0 188.8,468.0 187.8,468.5 185.8,487.8 185.2,489.6 184.8,490.1 183.8,488.2 183.2,483.8 182.1,468.2 181.7,467.8 178.8,466.7 176.2,466.5 171.2,467.7 169.4,468.8 168.3,488.2 167.6,493.2 166.8,495.7 166.2,495.2 165.8,493.2 164.7,480.8 164.5,474.8 163.9,470.2 163.3,469.2 157.8,469.1 154.2,470.0 153.1,470.8 153.3,473.8 151.3,486.2 150.8,487.5 150.2,487.8 149.2,486.3 147.5,475.8 147.0,474.8 145.8,474.4 142.1,475.8 139.8,475.9 136.8,475.3 135.2,474.4 133.2,472.2 130.9,467.8ZM108.8,451.5 109.8,450.5 110.8,450.1 114.8,449.7 118.8,451.2 120.8,452.8 122.2,454.5 123.8,453.8 124.5,456.2 125.5,457.8 128.5,459.2 128.0,462.2 127.3,463.8 126.1,465.2 125.2,465.6 123.8,464.9 122.2,463.1 119.8,465.0 118.2,465.5 114.8,465.4 111.8,464.2 110.2,462.2 107.8,457.2 108.1,452.8ZM83.8,450.3 84.5,451.2 85.9,456.2 85.3,458.2 83.5,460.2 82.2,460.9 79.2,461.5 76.2,461.2 76.2,450.8 81.8,450.0ZM109.2,464.2 110.8,464.5 111.4,465.2 113.0,471.8 110.9,480.8 109.8,482.5 108.8,482.9 107.8,481.7 106.8,479.5 105.1,472.8 105.0,470.8 106.2,465.5ZM586.8,476.0 588.2,474.9 590.2,474.1 602.2,472.3 609.2,468.1 613.2,467.1 620.2,467.0 623.2,467.7 631.2,473.1 632.9,475.8 633.4,477.8 633.4,480.2 630.8,486.0 628.1,490.2 627.2,492.8 626.5,497.8 626.5,508.2 625.9,509.8 623.9,511.8 616.9,511.8 615.5,508.2 615.4,494.8 614.2,492.4 612.8,491.5 609.2,490.6 605.2,490.5 596.8,492.1 594.1,493.2 590.8,497.6 590.2,497.9 589.2,497.5 587.5,494.2 584.6,484.2 584.7,479.2ZM660.8,469.5 660.8,475.7 656.8,475.7 654.3,474.2 654.0,472.2 654.8,471.0 656.8,470.1Z"/>
</g>
</g>
<g id="cl" fill="none" stroke="#000" stroke-width="1" shape-rendering="crispEdges">
<g clip-path="url(#pc)">
<path d="M79.0,438.9 L85.0,439.9 L87.9,447.9 L87.0,457.8 L84.0,467.8 L85.0,477.7 L83.0,484.7 L81.0,479.7 L79.0,470.7"/>
<path d="M90.9,439.9 L97.9,438.9 L102.9,443.9 L103.9,451.9 L99.9,459.8 L98.9,467.8 L96.9,477.7 L94.9,484.7 L91.9,477.7 L90.9,467.8 L88.9,457.8 L87.9,447.9Z"/>
<path d="M104.8,439.9 L110.8,438.9 L114.8,445.9 L118.8,447.9 L122.7,451.9 L121.7,459.8 L116.8,462.8 L112.8,459.8 L110.8,467.8 L109.8,479.7 L106.8,485.7 L103.9,477.7 L102.9,467.8 L100.9,457.8 L99.9,447.9Z"/>
<path d="M91.3,448.9 L96.9,446.9 L101.3,450.9 L100.5,457.8 L96.9,464.8 L92.9,463.8 L90.5,456.8Z"/>
<path d="M109.2,449.9 L114.8,448.9 L118.8,452.9 L118.4,458.8 L113.8,461.4 L109.8,457.8Z"/>
<path d="M106.4,465.8 L109.8,464.8 L111.8,470.7 L110.8,477.7 L108.4,480.7 L106.2,475.7Z"/>
<path d="M80.0,449.9 L84.0,448.9 L85.0,453.8 L82.6,457.8 L79.0,457.8"/>
<path d="M125.7,451.9 L127.7,451.9 L130.7,441.9 L138.6,438.9 L154.5,438.9 L157.5,445.9 L158.5,447.9 L185.4,447.9 L187.3,438.9 L188.7,447.9 L215.0,447.9"/>
<path d="M125.7,451.9 L126.7,467.8 L132.7,479.7 L133.7,485.7 L136.7,477.7 L138.6,467.8 L142.2,474.7 L144.6,470.7 L147.6,479.7 L149.6,486.6 L152.2,480.1 L155.5,476.7 L172.4,476.7 L174.4,470.7 L176.4,476.7 L184.4,476.7 L186.4,476.7"/>
<path d="M128.7,452.9 L131.1,446.9 L135.7,443.9 L138.6,449.9 L142.6,446.9 L147.6,448.9 L153.0,446.9 L155.5,452.9 L153.0,459.8 L154.5,467.8 L151.6,472.7 L148.6,463.8 L145.6,470.7 L142.2,460.8 L138.6,464.8 L135.3,459.8 L131.1,463.8 L129.1,457.8Z"/>
<path d="M155.5,457.8 L162.5,464.8 L168.5,467.8 L172.4,464.2 L178.4,465.4 L184.4,468.8 L186.4,470.7"/>
<path d="M164.9,482.7 L167.3,480.1 L168.9,487.6 L167.7,496.6 L165.9,493.6Z"/>
<rect x="215.0" y="436.0" width="34.8" height="17.8"/>
<rect x="186.4" y="468.7" width="34.2" height="18.7"/>
<rect x="321.5" y="460.0" width="36.1" height="19.3"/>
<rect x="490.5" y="475.7" width="34.5" height="19.9"/>
<path d="M249.8,454.8 L260.7,454.8 L261.7,462.2 L266.7,463.8 L294.5,464.2 L297.5,468.8 L298.5,475.7 L300.5,473.3 L302.5,466.8 L305.4,465.8 L307.4,469.7 L308.4,474.7 L321.3,475.7"/>
<path d="M220.6,474.1 L224.9,474.7 L230.9,474.7 L232.9,468.8 L235.9,467.8 L238.8,475.7 L242.8,474.7 L246.8,476.7 L254.7,475.7 L258.7,479.7 L262.7,481.7 L292.5,481.3 L296.1,478.1 L296.9,468.8 L293.5,465.4 L266.7,466.2 L262.7,464.8 L260.3,457.8 L252.8,455.8 L249.8,456.2"/>
<path d="M220.6,484.7 L232.9,484.7 L234.9,480.1 L237.3,487.6 L239.8,492.0 L242.8,485.7 L245.8,484.7 L248.8,492.0 L251.8,485.7 L253.8,484.7 L292.5,484.9 L300.5,483.9 L346.8,484.9"/>
<path d="M357.5,476.7 L358.9,476.7 L360.9,470.7 L363.9,469.7 L364.9,477.7 L372.8,477.7 L375.8,470.7 L376.8,469.7 L394.7,469.7 L416.6,469.7 L420.6,475.7 L428.5,476.7 L430.5,470.7 L458.3,469.7 L460.3,476.7 L480.8,477.7 L488.7,477.7"/>
<path d="M364.9,481.7 L376.8,482.7 L378.8,476.7 L386.8,474.7 L389.7,476.7 L394.7,474.7 L414.6,475.7 L418.6,481.7 L424.5,483.7 L426.5,480.7 L434.5,481.7 L440.4,483.7 L454.4,483.7 L458.3,485.7 L460.3,488.6 L466.3,489.2 L480.8,488.8 L488.7,488.8"/>
<path d="M347.0,479.7 L348.0,489.6 L353.0,491.6 L378.8,492.0 L383.8,487.6 L386.8,485.7 L389.7,489.6 L391.7,485.7 L393.7,491.6 L395.7,485.7 L412.6,485.7 L415.6,491.6 L480.8,492.6 L488.7,492.6"/>
<path d="M481.0,469.7 L489.0,469.7 L489.9,475.7"/>
<path d="M481.0,475.7 L484.0,473.7 L485.0,479.7 L483.0,487.6 L481.0,489.6"/>
<path d="M525.1,478.7 L528.3,480.7 L528.7,485.7 L525.7,489.6"/>
<path d="M533.7,475.7 L537.7,470.7 L552.6,468.8 L555.6,463.8 L560.5,461.8 L574.4,461.8 L578.4,465.8 L577.4,479.7 L574.4,485.7 L564.5,487.6 L561.5,491.6 L540.6,491.6 L537.7,485.7 L534.7,480.7Z"/>
<path d="M540.6,475.7 L546.6,472.7 L556.5,470.7 L560.5,465.8 L568.5,465.8 L572.5,470.7 L568.5,478.7 L560.5,484.7 L554.6,482.7 L548.6,479.7 L541.6,480.7Z"/>
<path d="M583.6,470.7 L586.3,469.8 L602.3,469.0 L605.0,462.7 L625.5,461.8 L627.2,467.2 L632.6,469.8 L634.4,478.8 L631.7,491.2 L593.4,492.1 L590.7,498.3 L588.1,496.6 L586.3,487.7 L584.2,478.8Z"/>
<path d="M587.2,476.1 L589.8,473.4 L600.5,471.6 L606.8,467.2 L611.2,465.4 L623.7,465.4 L627.2,469.8 L632.6,473.4 L633.5,481.4 L629.0,485.9 L621.9,486.8 L616.6,488.5 L611.2,485.0 L605.9,486.8 L598.8,485.9 L591.6,483.2 L587.7,480.5Z"/>
<path d="M657.9,453.8 L650.4,462.7 L647.7,468.1 L649.5,475.2 L653.9,476.6 L657.9,473.4"/>
<text x="216.5" y="451.5" font-size="16" stroke="#000" stroke-width="0.6" style="fill:#000">.001</text>
<text x="188.0" y="484.8" font-size="16" stroke="#000" stroke-width="0.6" style="fill:#000">.001</text>
<text x="323.0" y="477.0" font-size="16" stroke="#000" stroke-width="0.6" style="fill:#000">.001</text>
<text x="492.0" y="493.0" font-size="16" stroke="#000" stroke-width="0.6" style="fill:#000">.001</text>
</g>
</g>
<polygon points="631,509 658,509 658,476" fill="#000"/>
<g stroke="#000" stroke-width="2" fill="none">
<line x1="79" y1="470.7" x2="97" y2="470.7"/>
<line x1="79" y1="432.4" x2="97" y2="432.4"/>
<line x1="79" y1="394.1" x2="97" y2="394.1"/>
<line x1="79" y1="355.8" x2="97" y2="355.8"/>
<line x1="79" y1="317.5" x2="97" y2="317.5"/>
<line x1="79" y1="279.2" x2="97" y2="279.2"/>
<line x1="79" y1="240.9" x2="97" y2="240.9"/>
<line x1="79" y1="202.6" x2="97" y2="202.6"/>
<line x1="79" y1="164.3" x2="97" y2="164.3"/>
<line x1="79" y1="126.0" x2="97" y2="126.0"/>
<line x1="131.6" y1="509" x2="131.6" y2="491"/>
<line x1="184.3" y1="509" x2="184.3" y2="491"/>
<line x1="236.9" y1="509" x2="236.9" y2="491"/>
<line x1="289.5" y1="509" x2="289.5" y2="491"/>
<line x1="342.2" y1="509" x2="342.2" y2="491"/>
<line x1="394.8" y1="509" x2="394.8" y2="491"/>
<line x1="447.5" y1="509" x2="447.5" y2="491"/>
<line x1="500.1" y1="509" x2="500.1" y2="491"/>
<line x1="552.7" y1="509" x2="552.7" y2="491"/>
<line x1="605.4" y1="509" x2="605.4" y2="491"/>
</g>
<rect x="211.5" y="96" width="446" height="24.5" fill="#fff" stroke="#000" stroke-width="1"/>
<rect x="79" y="96" width="579" height="413" fill="none" stroke="#000" stroke-width="2"/>
<text class="bd" x="215.5" y="112.8" font-size="17" textLength="438" lengthAdjust="spacingAndGlyphs">Cloud + Ice water mixing ratio Contours: .001 to .1 by .099</text>
<text class="t16 bd" x="67" y="515.0" text-anchor="end">0.0</text>
<text class="t16 bd" x="67" y="476.7" text-anchor="end">1.0</text>
<text class="t16 bd" x="67" y="438.4" text-anchor="end">2.0</text>
<text class="t16 bd" x="67" y="400.1" text-anchor="end">3.0</text>
<text class="t16 bd" x="67" y="361.8" text-anchor="end">4.0</text>
<text class="t16 bd" x="67" y="323.5" text-anchor="end">5.0</text>
<text class="t16 bd" x="67" y="285.2" text-anchor="end">6.0</text>
<text class="t16 bd" x="67" y="246.9" text-anchor="end">7.0</text>
<text class="t16 bd" x="67" y="208.6" text-anchor="end">8.0</text>
<text class="t16 bd" x="67" y="170.3" text-anchor="end">9.0</text>
<text class="t16 bd" x="67" y="132.0" text-anchor="end">10.0</text>
<text class="t16 bd" x="79.0" y="532.7" text-anchor="middle">-20.1</text>
<text class="t16 bd" x="131.6" y="532.7" text-anchor="middle">-16.9</text>
<text class="t16 bd" x="184.3" y="532.7" text-anchor="middle">-13.8</text>
<text class="t16 bd" x="236.9" y="532.7" text-anchor="middle">-10.6</text>
<text class="t16 bd" x="289.5" y="532.7" text-anchor="middle">-7.4</text>
<text class="t16 bd" x="342.2" y="532.7" text-anchor="middle">-4.2</text>
<text class="t16 bd" x="394.8" y="532.7" text-anchor="middle">-1.1</text>
<text class="t16 bd" x="447.5" y="532.7" text-anchor="middle">2.1</text>
<text class="t16 bd" x="500.1" y="532.7" text-anchor="middle">5.3</text>
<text class="t16 bd" x="552.7" y="532.7" text-anchor="middle">8.4</text>
<text class="t16 bd" x="605.4" y="532.7" text-anchor="middle">11.6</text>
<text class="t16 bd" x="658.0" y="532.7" text-anchor="middle">14.8</text>
<text class="bd" x="78.5" y="14" font-size="16.3">W-E at 8S</text>
<text class="sm" x="657.5" y="10.8" text-anchor="end" textLength="122.5" lengthAdjust="spacingAndGlyphs">Init: 2018-09-25_00:00:00</text>
<text class="sm" x="657.5" y="23.6" text-anchor="end" textLength="131.5" lengthAdjust="spacingAndGlyphs">Valid: 2018-09-30_06:00:00</text>
<text class="sm" x="81.8" y="59.9" textLength="109" lengthAdjust="spacingAndGlyphs">Relative Humidity   (%)</text>
<text class="sm" x="81.8" y="71.7" textLength="179" lengthAdjust="spacingAndGlyphs">Cloud + Ice water mixing ratio   (g/kg)</text>
<text class="sm" x="81.8" y="83.6">Main</text>
<text class="sm" x="658.5" y="91.4" text-anchor="end" textLength="163" lengthAdjust="spacingAndGlyphs">Cross-Section: (130,346) to (454,346)</text>
<text class="bd" font-size="22" text-anchor="middle" transform="translate(18,301.5) rotate(-90)">Height (km)</text>
<text class="bd" font-size="22" text-anchor="middle" x="368" y="563.4">longitude</text>
<text class="bd" font-size="17" text-anchor="middle" x="368" y="611" textLength="166" lengthAdjust="spacingAndGlyphs">Relative Humidity  (%)</text>
<rect x="170.5" y="617.5" width="33" height="19.5" fill="#ffffff" stroke="#000" stroke-width="1"/>
<rect x="203.5" y="617.5" width="33" height="19.5" fill="#a3a3ff" stroke="#000" stroke-width="1"/>
<rect x="236.5" y="617.5" width="33" height="19.5" fill="#4646ff" stroke="#000" stroke-width="1"/>
<rect x="269.5" y="617.5" width="33" height="19.5" fill="#0000eb" stroke="#000" stroke-width="1"/>
<rect x="302.5" y="617.5" width="33" height="19.5" fill="#004b9b" stroke="#000" stroke-width="1"/>
<rect x="335.5" y="617.5" width="33" height="19.5" fill="#008c3c" stroke="#000" stroke-width="1"/>
<rect x="368.5" y="617.5" width="33" height="19.5" fill="#32be14" stroke="#000" stroke-width="1"/>
<rect x="401.5" y="617.5" width="33" height="19.5" fill="#87d70a" stroke="#000" stroke-width="1"/>
<rect x="434.5" y="617.5" width="33" height="19.5" fill="#e1f500" stroke="#000" stroke-width="1"/>
<rect x="467.5" y="617.5" width="33" height="19.5" fill="#ffc800" stroke="#000" stroke-width="1"/>
<rect x="500.5" y="617.5" width="33" height="19.5" fill="#ff6400" stroke="#000" stroke-width="1"/>
<rect x="533.5" y="617.5" width="33" height="19.5" fill="#ff0a00" stroke="#000" stroke-width="1"/>
<text class="t16 bd" x="203.5" y="665.3" text-anchor="middle">10</text>
<text class="t16 bd" x="236.5" y="665.3" text-anchor="middle">20</text>
<text class="t16 bd" x="269.5" y="665.3" text-anchor="middle">30</text>
<text class="t16 bd" x="302.5" y="665.3" text-anchor="middle">40</text>
<text class="t16 bd" x="335.5" y="665.3" text-anchor="middle">50</text>
<text class="t16 bd" x="368.5" y="665.3" text-anchor="middle">60</text>
<text class="t16 bd" x="401.5" y="665.3" text-anchor="middle">70</text>
<text class="t16 bd" x="434.5" y="665.3" text-anchor="middle">80</text>
<text class="t16 bd" x="467.5" y="665.3" text-anchor="middle">90</text>
<text class="t16 bd" x="500.5" y="665.3" text-anchor="middle">95</text>
<text class="t16 bd" x="533.5" y="665.3" text-anchor="middle">98</text>
</svg>
</body></html>
